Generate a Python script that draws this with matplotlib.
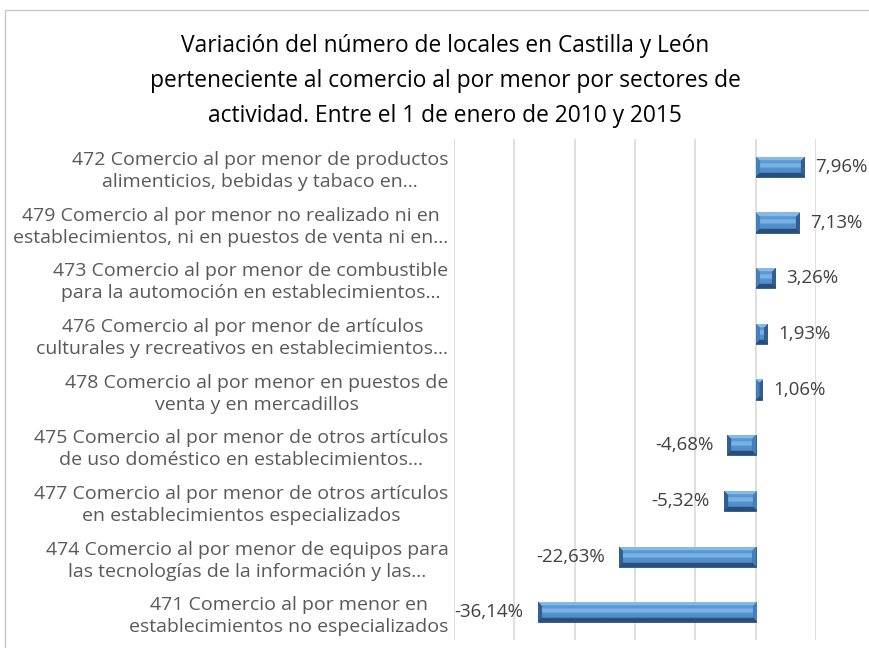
import matplotlib
matplotlib.use('Agg')
import matplotlib.pyplot as plt
from matplotlib.patches import Rectangle
import numpy as np

plt.rcParams['font.family'] = ['Open Sans', 'DejaVu Sans']

# Data (top to bottom as shown)
sectors = [
    '472 Comercio al por menor de productos\nalimenticios, bebidas y tabaco en…',
    '479 Comercio al por menor no realizado ni en\nestablecimientos, ni en puestos de venta ni en…',
    '473 Comercio al por menor de combustible\npara la automoción en establecimientos…',
    '476 Comercio al por menor de artículos\nculturales y recreativos en establecimientos…',
    '478 Comercio al por menor en puestos de\nventa y en mercadillos',
    '475 Comercio al por menor de otros artículos\nde uso doméstico en establecimientos…',
    '477 Comercio al por menor de otros artículos\nen establecimientos especializados',
    '474 Comercio al por menor de equipos para\nlas tecnologías de la información y las…',
    '471 Comercio al por menor en\nestablecimientos no especializados',
]
variation = [7.96, 7.13, 3.26, 1.93, 1.06, -4.68, -5.32, -22.63, -36.14]

title = ('Variación del número de locales en Castilla y León\n'
         'perteneciente al comercio al por menor por sectores de\n'
         'actividad. Entre el 1 de enero de 2010 y 2015')


def fmt_pct(v):
    return f'{v:.2f}%'.replace('.', ',')


def bevel_image(nx, ny, bev):
    # shading values 0..1 for a bevelled bar (pixel grid)
    img = np.zeros((ny, nx))
    for j in range(ny):
        for i in range(nx):
            d_top, d_bot = j, ny - 1 - j
            d_left, d_right = i, nx - 1 - i
            m = min(d_top, d_bot, d_left, d_right)
            if m >= bev:
                t = (j - bev) / max(ny - 2 * bev - 1, 1)
                val = 0.66 - 0.12 * t
                if abs(t - 0.4) < 0.2:
                    val = 0.8
                img[j, i] = val
            elif m == d_top:
                img[j, i] = 0.85
            elif m == d_bot:
                img[j, i] = 0.12
            elif m == d_left:
                img[j, i] = 0.4
            else:
                img[j, i] = 0.2
    return img


fig = plt.figure(figsize=(8.69, 6.48), dpi=100)
ax = fig.add_axes([0.5224, 0.0123, 0.4166, 0.7732])

# chart frame
fig.patches.append(Rectangle((5 / 869, -0.01), 1.0, 1 - 10 / 648 + 0.01,
                             transform=fig.transFigure, fill=False,
                             edgecolor='#c8c8c8', linewidth=1.0))

y = np.arange(len(sectors))
bars = ax.barh(y, variation, height=0.36, color='#4f8ccb',
               edgecolor='#2a4f78', linewidth=0.6, zorder=3)

ax.set_xlim(-50, 10)
ax.set_ylim(len(sectors) - 0.5, -0.5)

cmap = matplotlib.colors.LinearSegmentedColormap.from_list(
    'bev', ['#1d3a5e', '#3f78b5', '#5b9bd5', '#a8d4f6'])
px_per_unit = 0.4166 * 869 / 60.0
for b in bars:
    x0, y0 = b.get_x(), b.get_y()
    w, h = b.get_width(), b.get_height()
    nx = max(int(round(abs(w) * px_per_unit)), 2)
    img = bevel_image(nx, 20, min(4, nx // 2))
    im = ax.imshow(img, cmap=cmap, vmin=0, vmax=1, aspect='auto',
                   extent=[x0, x0 + w, y0 + h, y0], zorder=3.5,
                   interpolation='bilinear')
    im.set_clip_path(b)

for b, v in zip(bars, variation):
    yc = b.get_y() + b.get_height() / 2
    if v >= 0:
        ax.annotate(fmt_pct(v), (v, yc), xytext=(8, 0), textcoords='offset points',
                    ha='left', va='center', fontsize=13.5, color='#404040')
    else:
        ax.annotate(fmt_pct(v), (v, yc), xytext=(-10, 0), textcoords='offset points',
                    ha='right', va='center', fontsize=13.5, color='#404040')

ax.set_xticks(np.arange(-50, 11, 10))
ax.xaxis.grid(True, color='#d9d9d9', linewidth=1.2, zorder=0)
ax.tick_params(axis='x', length=0, labelbottom=False)
ax.tick_params(axis='y', length=0, pad=4)
ax.set_yticks(y)
ax.set_yticklabels(sectors, fontsize=14, color='#595959', ha='right',
                   multialignment='center', linespacing=1.3)
for s in ax.spines.values():
    s.set_visible(False)

fig.text(445 / 869, 1 - 81 / 648, title, ha='center', va='center',
         fontsize=16.4, color='#000000', linespacing=1.6)

fig.savefig('out.png', dpi=100)
